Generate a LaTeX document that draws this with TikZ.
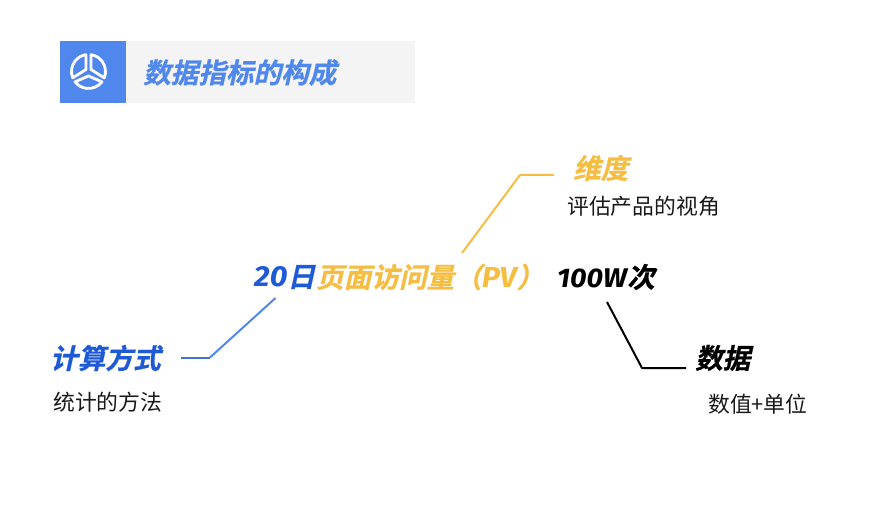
\documentclass[tikz,border=0pt]{standalone}
\usepackage{fontspec}
\setmainfont{Noto Sans CJK SC}
\newfontfamily\hd[FakeSlant=0.22,FakeBold=0.6]{Noto Sans CJK SC Bold}
\newfontfamily\hlfam[FakeStretch=1.06]{Fira Sans}
\newcommand{\hlf}{\hlfam\bfseries\itshape\fontsize{29}{29}\selectfont}
\newcommand{\hlg}{\hlfam\bfseries\itshape\fontsize{27}{27}\selectfont}
\newfontfamily\bd{Noto Sans CJK SC}
\definecolor{tblue}{HTML}{5087EC}
\definecolor{dblue}{HTML}{1F5AD6}
\definecolor{amber}{HTML}{F5BD42}
\definecolor{lgray}{HTML}{F4F4F4}
\tikzset{
  lab/.style={inner sep=0pt,anchor=west,font=\hd\fontsize{27.6}{28}\selectfont},
  sub/.style={inner sep=0pt,anchor=west,font=\bd\fontsize{21.8}{22}\selectfont,text=black!90},
  link/.style={line width=2pt,line join=round},
  sector/.style={draw=white,line width=2.8pt,line join=round}
}
\begin{document}
\begin{tikzpicture}[x=1pt,y=-1pt]
\useasboundingbox (0,0) rectangle (872,518);
\fill[lgray] (126,41) rectangle (415,103);
\fill[tblue] (60,41) rectangle (126,103);
\begin{scope}[shift={(88.5,71.5)},yscale=-1]
  \draw[sector] (202:17) arc[start angle=202,end angle=98.5,radius=17] -- (-2.5,2) -- cycle;
  \draw[sector] (-22:17) arc[start angle=-22,end angle=81.5,radius=17] -- (2.5,2) -- cycle;
  \draw[sector] (-37.4:17) arc[start angle=-37.4,end angle=-142.6,radius=17] -- (0,-4.5) -- cycle;
\end{scope}
\node[lab,text=tblue] (title) at (143,72.5) {数据指标的构成};
\node[lab,text=amber] (dim) at (573,168) {维度};
\node[sub] (dimsub) at (567,206) {评估产品的视角};
\node[lab,text=dblue] (calc) at (50,358) {计算方式};
\node[sub] (calcsub) at (53,402) {统计的方法};
\node[lab] (data) at (695,358) {数据};
\node[sub] (datasub) at (708,404) {数值+单位};
\node[lab,text=dblue] (m1) at (254,277) {{\hlf 20}日};
\node[lab,text=amber] (m2) at (316,277) {页面访问量（{\hlf PV}）};
\node[lab,text=black] (m3) at (557,277) {{\hlg 100W}次};
\coordinate (a1) at (181,357.5);
\coordinate (a2) at (210,357.5);
\coordinate (a3) at (275.5,298);
\coordinate (b1) at (462,253);
\coordinate (b2) at (520,175);
\coordinate (b3) at (554,175);
\coordinate (c1) at (607,302);
\coordinate (c2) at (642,368);
\coordinate (c3) at (686,368);
\draw[link,draw=tblue!85!black] (a1) -- (a2);
\draw[link,draw=tblue] (a2) -- (a3);
\draw[link,draw=amber] (b1) -- (b2) -- (b3);
\draw[link,draw=black] (c1) -- (c2) -- (c3);
\end{tikzpicture}
\end{document}
